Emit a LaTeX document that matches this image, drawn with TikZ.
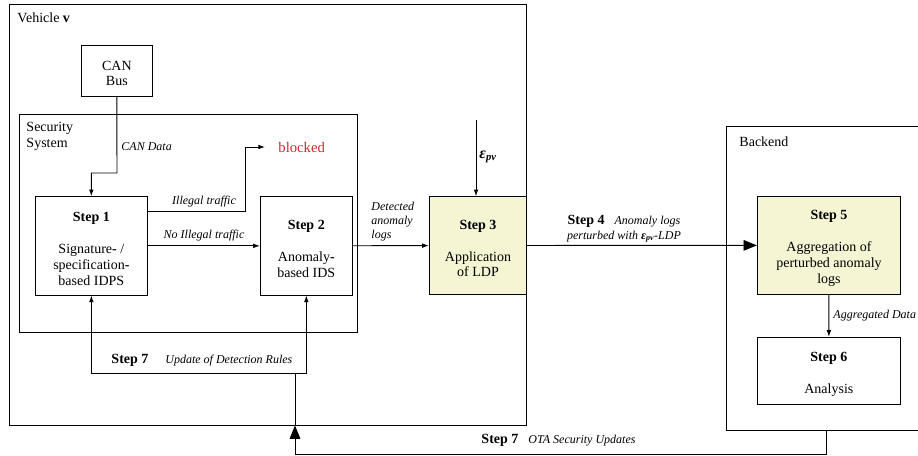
\documentclass[tikz,border=0pt]{standalone}
\usepackage{fontspec}
\setmainfont{Liberation Serif}
\usetikzlibrary{arrows.meta,fit}
\definecolor{ldpyellow}{RGB}{245,245,212}
\definecolor{blockred}{RGB}{204,40,40}
\tikzset{
  box/.style={draw, inner sep=0pt},
  ldpbox/.style={box, fill=ldpyellow},
  boxtxt/.style={inner sep=0pt, align=center, yshift=-2.2pt, font=\fontsize{10.5}{11.8}\selectfont},
  boxtitle/.style={inner sep=0pt, align=left, font=\fontsize{10.5}{12}\selectfont},
  lbl/.style={inner sep=0pt, align=left, font=\fontsize{9}{10.3}\selectfont\itshape},
  arr/.style={-{Latex[length=5pt,width=3.5pt]}},
  bigarr/.style={-{Triangle[length=10pt,width=8pt]}},
}
\begin{document}
\begin{tikzpicture}[x=0.75pt,y=-0.75pt,line width=0.7pt]
\useasboundingbox (0,0) rectangle (918,456);
% containers
\node[box, fit={(9.3,4) (526.7,425)}] (veh) {};
\node[box, fit={(19.5,114.3) (357.7,332.3)}] (sec) {};
\node[box, fit={(726.3,126.7) (927,430)}] (back) {};
\node[boxtitle, anchor=west] (vehtxt) at (17,18) {Vehicle \textbf{v}};
\node[boxtitle, anchor=west] (sectxt) at (26,136) {Security\\System};
\node[boxtitle, anchor=west] (backtxt) at (739,142) {Backend};
% steps
\node[box, fit={(81,45) (152.7,96)}] (can) {};
\node[box, fit={(35,196.7) (147.7,295)}] (s1) {};
\node[box, fit={(260.3,196.7) (352.3,295)}] (s2) {};
\node[ldpbox, fit={(429.3,196.7) (526.7,294.3)}] (s3) {};
\node[ldpbox, fit={(757.3,196.7) (900.7,294)}] (s5) {};
\node[box, fit={(757,337.3) (900.7,404)}] (s6) {};
\node[boxtxt] (cantxt) at (can.center) {CAN\\Bus};
\node[boxtxt] (s1txt) at (s1.center) {\textbf{Step 1}\\[12.2pt]Signature\textbf{-} /\\specification\textbf{-}\\based IDPS};
\node[boxtxt] (s2txt) at (s2.center) {\textbf{Step 2}\\[12.2pt]Anomaly\textbf{-}\\based IDS};
\node[boxtxt] (s3txt) at (s3.center) {\textbf{Step 3}\\[12.2pt]Application\\of LDP};
\node[boxtxt] (s5txt) at (s5.center) {\textbf{Step 5}\\[12.2pt]Aggregation of\\perturbed anomaly\\logs};
\node[boxtxt] (s6txt) at ([yshift=-0.8pt]s6.center) {\textbf{Step 6}\\[12.2pt]Analysis};
\node[boxtitle, anchor=west, text=blockred, font=\fontsize{11}{13}\selectfont] (blocked) at (278,147) {blocked};
% bend points
\coordinate (canbend) at (117,173);
\coordinate (ill) at (245,147);
\coordinate (epstop) at (476,120);
\coordinate (ota) at (295,454);
\coordinate (rules) at (295,373);
% connectors
\draw[arr] (can.south) -- (canbend) -| (s1.north);
\draw[arr] ([yshift=25.5pt]s1.east) -| (ill) -- ([xshift=-9.75pt]blocked.west);
\draw[arr] (s1) -- (s2);
\draw[arr] (s2) -- (s3);
\draw[arr] (epstop) -- (epstop |- s3.north);
\draw[bigarr] (s3) -- (s5);
\draw[arr] (s5) -- (s6);
\draw[bigarr] (back.south) |- (ota) -- (ota |- veh.south);
\draw (ota |- veh.south) -- (rules);
\draw[arr] (rules) -| (s1.south);
\draw[arr] (rules) -| (s2.south);
% labels
\node[lbl, anchor=west] (candata) at (121,147) {CAN Data};
\node[lbl] (illtxt) at (204,202) {Illegal traffic};
\node[lbl] (noilltxt) at (204,236) {No Illegal traffic};
\node[lbl, anchor=west] (dettxt) at (371,221.5) {Detected\\anomaly\\logs};
\node[boxtitle, anchor=west, font=\fontsize{12}{13}\selectfont] (epstxt) at (479,157) {\textbf{\textit{ε}}\textsubscript{\textbf{\textit{pv}}}};
\node[boxtitle, align=center] (s4txt) at (624,229) {\textbf{Step 4}\hspace{7.5pt}{\fontsize{9}{10}\selectfont\itshape Anomaly logs}\\[-1pt]{\fontsize{9}{10}\selectfont\itshape perturbed with \textbf{ε\textsubscript{pv}}-LDP}};
\node[lbl, anchor=west] (aggtxt) at (833,316) {Aggregated Data};
\node[boxtitle, anchor=west] (s7in) at (111,360) {\textbf{Step 7}\hspace{12.75pt}{\fontsize{9}{10}\selectfont\itshape Update of Detection Rules}};
\node[boxtitle, anchor=west] (s7ota) at (481,440) {\textbf{Step 7}\hspace{7.5pt}{\fontsize{9}{10}\selectfont\itshape OTA Security Updates}};
\end{tikzpicture}
\end{document}
